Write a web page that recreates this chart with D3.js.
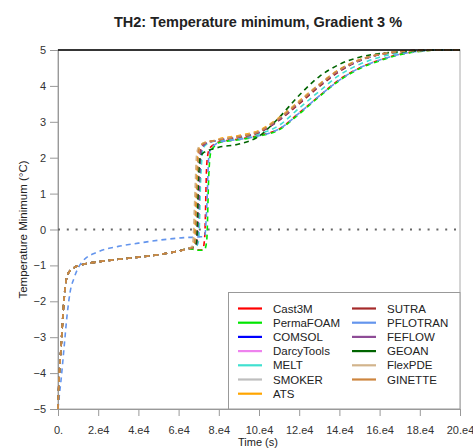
<!DOCTYPE html>
<html>
<head>
<meta charset="utf-8">
<script src="https://cdn.jsdelivr.net/npm/d3@7"></script>
<style>
  body { margin: 0; background: #fff; }
  text { font-family: Arial, "Liberation Sans", sans-serif; }
  .axis text { font-size: 11px; fill: #333; }
  .axis line, .axis path { stroke: #999; }
</style>
</head>
<body>
<svg width="473" height="448"></svg>
<script>
// time in units of 1e4 s
var times = [0, 0.05, 0.15, 0.3, 0.45, 0.6, 0.8, 1.2, 2, 3, 4, 5, 6, 6.5,
  6.7, 6.8, 6.9, 7.0, 7.1, 7.2, 7.3, 7.4, 7.5, 7.6, 7.8,
  8, 9, 10, 11, 12, 13, 14, 15, 16, 17, 18, 19, 20];

var cast3m     = [-5, -4.2, -3.3, -1.95, -1.3, -1.15, -1.06, -0.98, -0.9, -0.83, -0.77, -0.7, -0.6, -0.53,
  -0.54, -0.55, -0.56, -0.57, -0.57, -0.56, -0.2, 1.8, 2.2, 2.3, 2.38,
  2.44, 2.52, 2.62, 2.8, 3.25, 3.72, 4.18, 4.5, 4.72, 4.88, 4.97, 5, 5];
var permafoam  = [-5, -4.2, -3.3, -1.95, -1.3, -1.15, -1.06, -0.98, -0.9, -0.83, -0.77, -0.7, -0.6, -0.53,
  -0.55, -0.56, -0.57, -0.58, -0.58, -0.58, -0.56, -0.3, 1.5, 2.15, 2.33,
  2.42, 2.5, 2.6, 2.78, 3.22, 3.7, 4.15, 4.48, 4.7, 4.87, 4.96, 5, 5];
var comsol     = [-5, -4.2, -3.3, -1.95, -1.3, -1.15, -1.06, -0.98, -0.9, -0.83, -0.77, -0.7, -0.6, -0.53,
  -0.5, -0.48, -0.44, 0.3, 2.0, 2.28, 2.36, 2.4, 2.43, 2.45, 2.47,
  2.49, 2.57, 2.7, 3.05, 3.52, 4.0, 4.42, 4.7, 4.87, 4.95, 4.99, 5, 5];
var darcytools = [-5, -4.2, -3.3, -1.95, -1.3, -1.15, -1.06, -0.98, -0.9, -0.83, -0.77, -0.7, -0.6, -0.53,
  -0.5, -0.47, -0.3, 1.5, 2.25, 2.35, 2.4, 2.42, 2.44, 2.45, 2.47,
  2.5, 2.58, 2.72, 3.08, 3.55, 4.03, 4.44, 4.72, 4.88, 4.96, 4.99, 5, 5];
var melt       = [-5, -4.2, -3.3, -1.95, -1.3, -1.15, -1.06, -0.98, -0.9, -0.83, -0.77, -0.7, -0.6, -0.53,
  -0.5, -0.49, -0.46, -0.3, 1.4, 2.2, 2.33, 2.38, 2.42, 2.44, 2.46,
  2.47, 2.54, 2.66, 2.9, 3.38, 3.85, 4.3, 4.6, 4.8, 4.92, 4.98, 5, 5];
var smoker     = [-5, -4.2, -3.3, -1.95, -1.3, -1.15, -1.06, -0.98, -0.9, -0.83, -0.77, -0.7, -0.6, -0.53,
  -0.5, -0.45, 0.5, 2.1, 2.3, 2.37, 2.4, 2.42, 2.44, 2.45, 2.47,
  2.5, 2.58, 2.72, 3.08, 3.55, 4.02, 4.44, 4.72, 4.88, 4.96, 4.99, 5, 5];
var ats        = [-5, -4.2, -3.3, -1.95, -1.3, -1.15, -1.06, -0.98, -0.9, -0.83, -0.77, -0.7, -0.6, -0.53,
  -0.48, 0.2, 1.8, 2.25, 2.35, 2.4, 2.42, 2.44, 2.45, 2.46, 2.48,
  2.52, 2.62, 2.76, 3.12, 3.58, 4.05, 4.46, 4.73, 4.88, 4.96, 4.99, 5, 5];
var sutra      = [-5, -4.2, -3.3, -1.95, -1.3, -1.15, -1.06, -0.98, -0.9, -0.83, -0.77, -0.7, -0.6, -0.53,
  -0.5, -0.47, -0.32, 1.4, 2.22, 2.34, 2.39, 2.42, 2.44, 2.45, 2.47,
  2.49, 2.57, 2.7, 3.04, 3.5, 3.98, 4.4, 4.7, 4.87, 4.95, 4.99, 5, 5];
var pflotran   = [-5, -4.7, -4.2, -3.3, -2.4, -1.75, -1.35, -0.9, -0.62, -0.47, -0.38, -0.3, -0.24, -0.22,
  -0.22, -0.21, -0.21, -0.21, -0.2, -0.2, -0.19, 0.6, 2.0, 2.25, 2.36,
  2.43, 2.51, 2.61, 2.8, 3.24, 3.72, 4.16, 4.5, 4.72, 4.88, 4.97, 5, 5];
var feflow     = [-5, -4.2, -3.3, -1.95, -1.3, -1.15, -1.06, -0.98, -0.9, -0.83, -0.77, -0.7, -0.6, -0.53,
  -0.5, -0.48, -0.42, 0.6, 2.1, 2.3, 2.37, 2.41, 2.43, 2.45, 2.47,
  2.5, 2.58, 2.72, 3.06, 3.54, 4.02, 4.43, 4.71, 4.88, 4.96, 4.99, 5, 5];
var geoan      = [-5, -4.2, -3.3, -1.95, -1.3, -1.15, -1.06, -0.98, -0.9, -0.83, -0.77, -0.7, -0.6, -0.53,
  -0.5, -0.48, -0.3, 1.6, 2.05, 2.12, 2.16, 2.19, 2.21, 2.23, 2.26,
  2.29, 2.38, 2.6, 3.12, 3.74, 4.26, 4.6, 4.8, 4.9, 4.95, 4.98, 5, 5];
var flexpde    = [-5, -4.2, -3.3, -1.95, -1.3, -1.15, -1.06, -0.98, -0.9, -0.83, -0.77, -0.7, -0.6, -0.53,
  -0.45, 0.8, 2.1, 2.3, 2.36, 2.4, 2.42, 2.44, 2.45, 2.46, 2.48,
  2.51, 2.6, 2.74, 3.1, 3.56, 4.04, 4.45, 4.72, 4.88, 4.96, 4.99, 5, 5];
var ginette    = [-5, -4.2, -3.3, -1.95, -1.3, -1.15, -1.06, -0.98, -0.9, -0.83, -0.77, -0.7, -0.6, -0.53,
  -0.5, -0.4, 1.0, 2.2, 2.33, 2.38, 2.41, 2.43, 2.45, 2.46, 2.48,
  2.5, 2.59, 2.73, 3.09, 3.55, 4.03, 4.45, 4.72, 4.88, 4.96, 4.99, 5, 5];

var names  = ['Cast3M', 'PermaFOAM', 'COMSOL', 'DarcyTools', 'MELT', 'SMOKER', 'ATS',
  'SUTRA', 'PFLOTRAN', 'FEFLOW', 'GEOAN', 'FlexPDE', 'GINETTE'];
var colors = ['#ff0000', '#00e600', '#0000ff', '#ee82ee', '#40e0d0', '#bebebe', '#ffa500',
  '#a52a2a', '#6495ed', '#8e4c96', '#006400', '#d2b48c', '#cd853f'];
var series = [cast3m, permafoam, comsol, darcytools, melt, smoker, ats,
  sutra, pflotran, feflow, geoan, flexpde, ginette];

var xTicks = [0, 2, 4, 6, 8, 10, 12, 14, 16, 18, 20];
var xTickLabels = ['0.', '2.e4', '4.e4', '6.e4', '8.e4', '10.e4', '12.e4', '14.e4', '16.e4', '18.e4', '20.e4'];
var yTicks = [-5, -4, -3, -2, -1, 0, 1, 2, 3, 4, 5];

var svg = d3.select('svg');
var margin = {top: 50, right: 13, bottom: 39, left: 58}
  , width = 473 - margin.left - margin.right
  , height = 448 - margin.top - margin.bottom;

var x = d3.scaleLinear().domain([0, 20]).range([margin.left, margin.left + width]);
var y = d3.scaleLinear().domain([-5, 5]).range([margin.top + height, margin.top]);

// title
svg.append('text')
  .attr('x', 258).attr('y', 27)
  .attr('text-anchor', 'middle')
  .style('font-size', '14.5px').style('font-weight', 'bold').style('fill', '#222')
  .text('TH2: Temperature minimum, Gradient 3 %');

// box
svg.append('rect')
  .attr('x', x(0)).attr('y', y(5))
  .attr('width', width).attr('height', height)
  .attr('fill', 'none').attr('stroke', '#aaa');

// axes
svg.append('g')
  .attr('class', 'axis')
  .attr('transform', 'translate(' + margin.left + ',0)')
  .call(d3.axisLeft(y).tickValues(yTicks).tickSize(8).tickSizeOuter(0)
    .tickFormat(function(d) { return d < 0 ? '\u2212' + (-d) : d; }))
  .call(function(g) { g.selectAll('text').attr('x', -12); });

svg.append('g')
  .attr('class', 'axis')
  .attr('transform', 'translate(0,' + (margin.top + height) + ')')
  .call(d3.axisBottom(x).tickValues(xTicks).tickSize(7).tickSizeOuter(0)
    .tickFormat(function(d, i) { return xTickLabels[i]; }))
  .call(function(g) { g.selectAll('text').attr('y', 17); });

// zero line
svg.append('line')
  .attr('x1', x(0)).attr('x2', x(20))
  .attr('y1', y(0)).attr('y2', y(0))
  .attr('stroke', '#666').attr('stroke-width', 2)
  .attr('stroke-dasharray', '2,6.8');

// axis titles
svg.append('text')
  .attr('x', 258).attr('y', 446)
  .attr('text-anchor', 'middle')
  .style('font-size', '11px').style('fill', '#222')
  .text('Time (s)');

svg.append('text')
  .attr('transform', 'translate(27,' + y(0) + ') rotate(-90)')
  .attr('text-anchor', 'middle')
  .style('font-size', '11.5px').style('fill', '#222')
  .text('Temperature Minimum (\u00b0C)');

// lines
var line = d3.line()
  .x(function(d, i) { return x(times[i]); })
  .y(function(d) { return y(d); })
  .curve(d3.curveMonotoneX);

series.forEach(function(s, k) {
  svg.append('path')
    .datum(s)
    .attr('d', line)
    .attr('fill', 'none')
    .attr('stroke', colors[k])
    .attr('stroke-width', 1.6)
    .attr('stroke-dasharray', '5,4');
});

// top line at 5
svg.append('line')
  .attr('x1', x(0)).attr('x2', x(20))
  .attr('y1', y(5)).attr('y2', y(5))
  .attr('stroke', '#000').attr('stroke-width', 1.5);

// legend
var lg = svg.append('g');
lg.append('rect')
  .attr('x', 228.5).attr('y', 292.5)
  .attr('width', x(20) - 228.5).attr('height', y(-5) - 292.5)
  .attr('fill', '#fff').attr('stroke', '#999');

names.forEach(function(n, i) {
  var col = i < 7 ? 0 : 1, row = i < 7 ? i : i - 7;
  var lx = col ? 352 : 238, ty = 308.5 + row * 14.2;
  lg.append('line')
    .attr('x1', lx).attr('x2', lx + 24)
    .attr('y1', ty).attr('y2', ty)
    .attr('stroke', colors[i]).attr('stroke-width', 2.2);
  lg.append('text')
    .attr('x', lx + 35).attr('y', ty + 4)
    .style('font-size', '11.5px').style('fill', '#222')
    .text(n);
});
</script>
</body>
</html>
